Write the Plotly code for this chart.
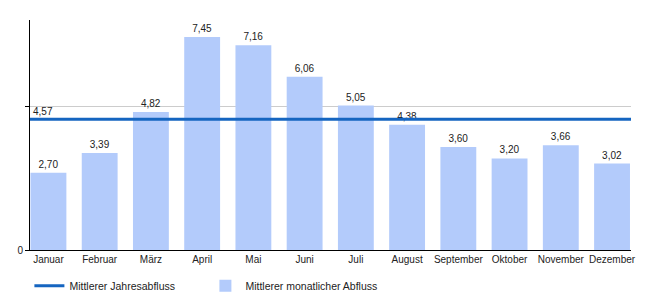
import plotly.graph_objects as go

months = ["Januar", "Februar", "März", "April", "Mai", "Juni", "Juli",
          "August", "September", "Oktober", "November", "Dezember"]
monthly_flow = [2.70, 3.39, 4.82, 7.45, 7.16, 6.06, 5.05, 4.38, 3.60, 3.20, 3.66, 3.02]
annual_mean = 4.57
y_ticks = [0, 5]
y_ticktext = ["0", ""]

FONT = "Liberation Sans, Arial, sans-serif"
TXT = "#222222"

fig = go.Figure()
fig.add_trace(go.Bar(
    x=months, y=monthly_flow, marker=dict(color="#b3cbfb", line=dict(width=0)),
    name="Mittlerer monatlicher Abfluss", texttemplate="%{y:.2f}",
    textposition="outside", textfont=dict(size=10, color=TXT, family=FONT),
    cliponaxis=False, legendrank=2))
fig.add_trace(go.Scatter(
    x=[0, 1], y=[annual_mean, annual_mean], xaxis="x2", mode="lines",
    line=dict(color="#1565c0", width=3), name="Mittlerer Jahresabfluss",
    hoverinfo="skip", legendrank=1))

fig.add_annotation(x=0, xref="paper", xanchor="left", xshift=1,
                   y=annual_mean, yref="y", yanchor="bottom", yshift=0,
                   text=f"{annual_mean:.2f}".replace(".", ","), showarrow=False,
                   font=dict(size=10, color=TXT, family=FONT))

fig.update_layout(
    width=650, height=300,
    margin=dict(l=30, r=19, t=20, b=50, autoexpand=False),
    paper_bgcolor="white", plot_bgcolor="white",
    separators=",.",
    bargap=0.3,
    font=dict(family=FONT, size=10, color=TXT),
    showlegend=True,
    legend=dict(orientation="h", x=-0.001, xanchor="left", y=-0.092, yanchor="top",
                font=dict(size=10.5, color=TXT, family=FONT),
                entrywidth=131, entrywidthmode="pixels"),
    xaxis=dict(range=[-0.36, 11.37], showgrid=False, showline=True,
               linecolor="black", linewidth=1, ticks="", tickfont=dict(size=10)),
    xaxis2=dict(overlaying="x", range=[0, 1], visible=False),
    yaxis=dict(range=[0, 8.04], tickvals=y_ticks, ticktext=y_ticktext,
               showgrid=True, gridcolor="#cccccc", gridwidth=1,
               showline=True, linecolor="black", linewidth=1,
               ticks="outside", ticklen=4, tickcolor="black",
               zeroline=False, tickfont=dict(size=10)),
)

fig.write_html("out.html")
